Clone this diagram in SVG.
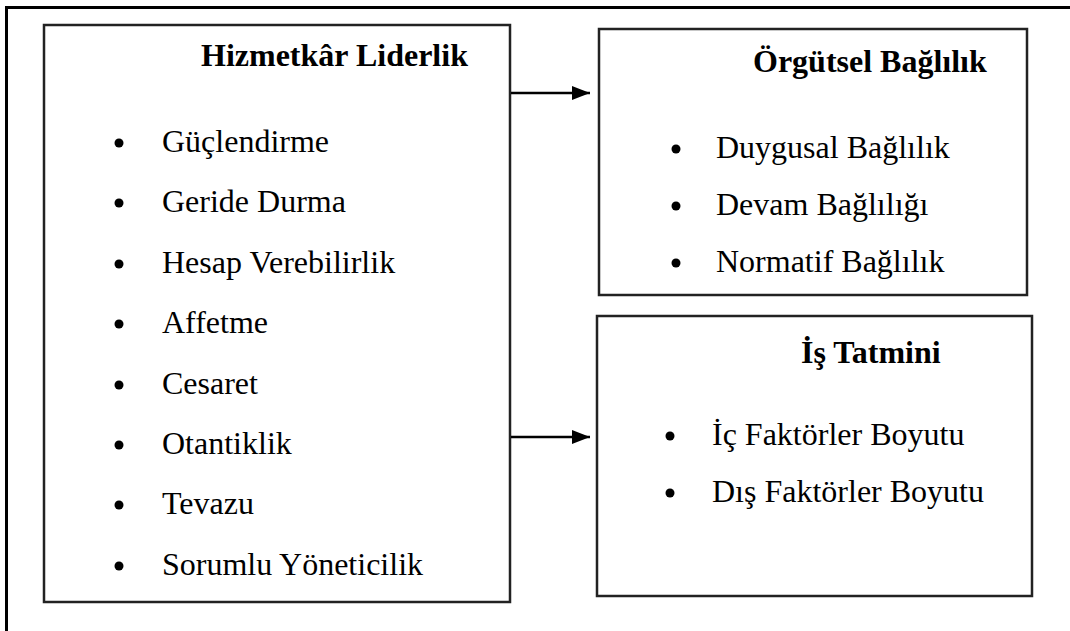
<svg xmlns="http://www.w3.org/2000/svg" width="1070" height="631" viewBox="0 0 1070 631">
  <defs>
    <marker id="arrowhead" markerWidth="18" markerHeight="14" refX="18" refY="7" orient="auto" markerUnits="userSpaceOnUse">
      <path d="M0,0 L18,7 L0,14 Z" fill="#000"/>
    </marker>
    <style>
      .frame { fill: none; stroke: #000; stroke-width: 3; }
      .box { fill: #fff; stroke: #222; stroke-width: 2.5; }
      .title { font-family: "Liberation Serif", "Times New Roman", serif; font-size: 32px; font-weight: bold; fill: #000; }
      .item { font-family: "Liberation Serif", "Times New Roman", serif; font-size: 32px; fill: #000; }
      .dot { fill: #000; }
      .link { fill: none; stroke: #000; stroke-width: 2.5; }
    </style>
  </defs>
  <rect width="1070" height="631" fill="#fff"/>

  <!-- surrounding frame, open past the right and bottom edges -->
  <path class="frame" d="M6.5,640 V7.5 H1080"/>

  <g id="hizmetkar-liderlik">
    <rect class="box" x="44" y="25" width="466" height="577"/>
    <text class="title" x="201" y="66">Hizmetkâr Liderlik</text>
    <g class="dot">
      <circle cx="119" cy="143" r="4.5"/>
      <circle cx="119" cy="203" r="4.5"/>
      <circle cx="119" cy="264" r="4.5"/>
      <circle cx="119" cy="324" r="4.5"/>
      <circle cx="119" cy="385" r="4.5"/>
      <circle cx="119" cy="445" r="4.5"/>
      <circle cx="119" cy="505" r="4.5"/>
      <circle cx="119" cy="566" r="4.5"/>
    </g>
    <text class="item" x="162" y="152">Güçlendirme</text>
    <text class="item" x="162" y="212">Geride Durma</text>
    <text class="item" x="162" y="273">Hesap Verebilirlik</text>
    <text class="item" x="162" y="333">Affetme</text>
    <text class="item" x="162" y="394">Cesaret</text>
    <text class="item" x="162" y="454">Otantiklik</text>
    <text class="item" x="162" y="514">Tevazu</text>
    <text class="item" x="162" y="575">Sorumlu Yöneticilik</text>
  </g>

  <g id="orgutsel-baglilik">
    <rect class="box" x="599" y="29" width="428" height="266"/>
    <text class="title" x="753" y="72">Örgütsel Bağlılık</text>
    <g class="dot">
      <circle cx="676" cy="149" r="4.5"/>
      <circle cx="676" cy="206" r="4.5"/>
      <circle cx="676" cy="263" r="4.5"/>
    </g>
    <text class="item" x="716" y="158">Duygusal Bağlılık</text>
    <text class="item" x="716" y="215">Devam Bağlılığı</text>
    <text class="item" x="716" y="272">Normatif Bağlılık</text>
  </g>

  <g id="is-tatmini">
    <rect class="box" x="597" y="316" width="435" height="280"/>
    <text class="title" x="801" y="363">İş Tatmini</text>
    <g class="dot">
      <circle cx="670" cy="436" r="4.5"/>
      <circle cx="670" cy="493" r="4.5"/>
    </g>
    <text class="item" x="712" y="445">İç Faktörler Boyutu</text>
    <text class="item" x="712" y="502">Dış Faktörler Boyutu</text>
  </g>

  <g id="connectors">
    <line class="link" x1="511" y1="93" x2="590" y2="93" marker-end="url(#arrowhead)"/>
    <line class="link" x1="511" y1="437" x2="590" y2="437" marker-end="url(#arrowhead)"/>
  </g>
</svg>
